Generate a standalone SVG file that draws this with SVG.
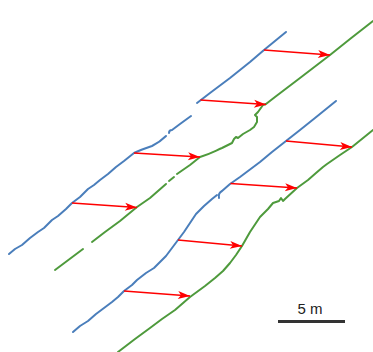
<svg xmlns="http://www.w3.org/2000/svg" width="373" height="352" viewBox="0 0 373 352">
<style>
.b{fill:none;stroke:#4a7ebb;stroke-width:2;stroke-linejoin:round;stroke-linecap:round}
.g{fill:none;stroke:#4e9a3c;stroke-width:2;stroke-linejoin:round;stroke-linecap:round}
.a{fill:none;stroke:#ff0000;stroke-width:1.5}
.t{font-family:"Liberation Sans",Arial,sans-serif;font-size:15px;fill:#222}
</style>
<defs>
<marker id="ah" markerUnits="userSpaceOnUse" markerWidth="14" markerHeight="10" refX="12" refY="4" orient="auto" overflow="visible">
<path d="M0,0 L12,4 L0,8 L3,4 Z" fill="#ff0000"/>
</marker>
</defs>
<rect width="373" height="352" fill="#ffffff"/>
<g id="blue-upper">
<path class="b" d="M9,254 L15,249 L22,245 L30,238 L38,232 L44,228 L52,220 L58,216 L66,209 L72,203 L80,197 L88,189 L94,185 L100,180 L108,174 L116,167 L124,161 L134,153 C140,150 146,148 152,146 C158,143 162,140 166,136"/>
<path class="b" d="M169,133 Q169,130 172,130 L180,124 L191,116"/>
<path class="b" d="M197,103 L210,93 L230,78 L250,62 L264,50 L286,32"/>
</g>
<g id="green-upper">
<path class="g" d="M55,270 L83,249"/>
<path class="g" d="M92,242 L105,232 L120,221 L137,207 L150,198 L166,184"/>
<path class="g" d="M169,181 L174,177"/>
<path class="g" d="M177,174 L190,165 L200,157 C210,154 215,151 222,148 L232,143 L234,139 L236,137 L238,138 L243,134 L250,130 L254,127 L257,122 L257,117 L255,115 L258,112 L263,105 L266,104 L275,97 L300,78 L330,55 L350,39 L373,21"/>
</g>
<g id="blue-lower">
<path class="b" d="M73,332 L80,326 L88,321 L96,314 L104,308 L112,302 L118,297 L124,291 L132,285 L137,280 L146,273 L154,268 L160,262 L166,256 L172,248 L178,240 L184,232 L190,223 L196,214 L204,206 L212,199 L217,195"/>
<path class="b" d="M219,198 Q218,193 222,191 L230,184 L240,177 L248,171 L260,162 L272,152 L286,141 L300,130 L315,118 L336,101"/>
</g>
<g id="green-lower">
<path class="g" d="M118,352 L135,339 L150,328 L162,319 L175,310 L190,297 L205,286 L215,278 L223,271 L230,263 L236,255 L242,246 L250,232 L260,217 L268,209 L273,203 L279,201 L281,198 L283,201 L285,199 L297,188 L308,180 L316,173 L323,167 L327,164 L340,155 L352,147 L373,130"/>
</g>
<g id="connectors">
<line class="a" x1="72" y1="203" x2="137" y2="207.5" marker-end="url(#ah)"/>
<line class="a" x1="134" y1="153" x2="200" y2="157" marker-end="url(#ah)"/>
<line class="a" x1="200.5" y1="100" x2="266" y2="104.5" marker-end="url(#ah)"/>
<line class="a" x1="264" y1="50" x2="330" y2="55" marker-end="url(#ah)"/>
<line class="a" x1="286" y1="141" x2="352" y2="147" marker-end="url(#ah)"/>
<line class="a" x1="230.5" y1="183.5" x2="297" y2="188" marker-end="url(#ah)"/>
<line class="a" x1="178" y1="240" x2="242" y2="246" marker-end="url(#ah)"/>
<line class="a" x1="124" y1="291" x2="190" y2="296" marker-end="url(#ah)"/>
</g>
<g id="scale-bar">
<line x1="278" y1="321.5" x2="345" y2="321.5" stroke="#333333" stroke-width="3"/>
<text class="t" x="310" y="314" text-anchor="middle">5 m</text>
</g>
</svg>
